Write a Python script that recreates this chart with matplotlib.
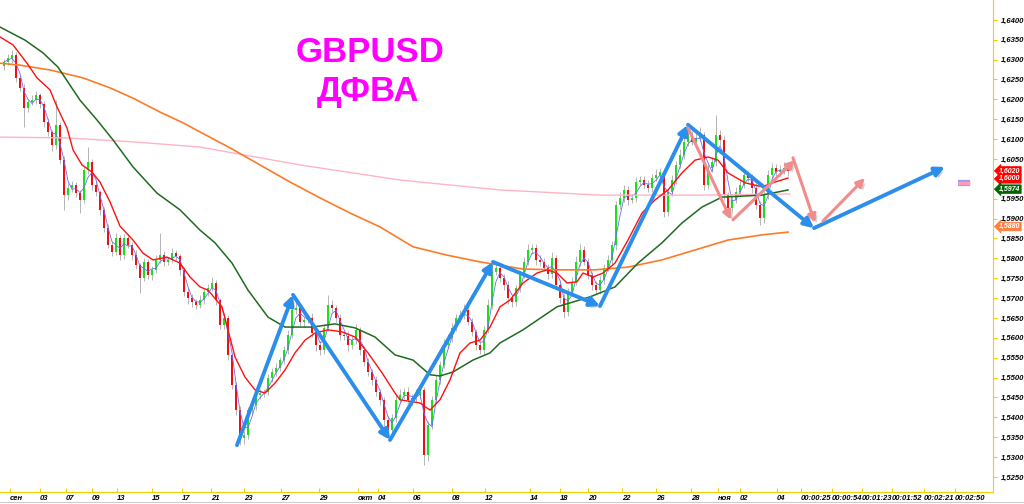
import matplotlib
matplotlib.use('Agg')
import matplotlib.pyplot as plt
import matplotlib.patheffects as pe
from matplotlib.lines import Line2D
import numpy as np
import pandas as pd

# H4 closes (bar 0 = first candle)
close = [
    1.6294, 1.6304, 1.6312, 1.6254, 1.6229, 1.6178, 1.6193, 1.6198, 1.6211, 1.6188,
    1.6143, 1.6118, 1.6085, 1.6136, 1.6047, 1.5959, 1.5977, 1.5985, 1.5964, 1.5947,
    1.6022, 1.6042, 1.5985, 1.5967, 1.5922, 1.5876, 1.5834, 1.5816, 1.5851, 1.5808,
    1.5851, 1.5834, 1.5808, 1.5783, 1.5751, 1.5791, 1.5758, 1.5771, 1.5796, 1.5808,
    1.5791, 1.5796, 1.5813, 1.5806, 1.5771, 1.5715, 1.5700, 1.5690, 1.5683, 1.5695,
    1.5715, 1.5725, 1.5738, 1.5695, 1.5632, 1.5650, 1.5557, 1.5481, 1.5418, 1.5348,
    1.5356, 1.5418, 1.5431, 1.5456, 1.5461, 1.5464, 1.5499, 1.5514, 1.5524, 1.5544,
    1.5569, 1.5607, 1.5670, 1.5675, 1.5640, 1.5645, 1.5650, 1.5612, 1.5582, 1.5569,
    1.5625, 1.5683, 1.5675, 1.5650, 1.5607, 1.5605, 1.5582, 1.5594, 1.5620, 1.5569,
    1.5539, 1.5514, 1.5494, 1.5464, 1.5444, 1.5393, 1.5368, 1.5398, 1.5444, 1.5456,
    1.5464, 1.5444, 1.5449, 1.5456, 1.5469, 1.5305, 1.5381, 1.5444, 1.5494, 1.5532,
    1.5582, 1.5600, 1.5625, 1.5650, 1.5657, 1.5670, 1.5640, 1.5615, 1.5582, 1.5569,
    1.5620, 1.5683, 1.5766, 1.5776, 1.5751, 1.5733, 1.5700, 1.5690, 1.5725, 1.5758,
    1.5791, 1.5821, 1.5826, 1.5796, 1.5791, 1.5776, 1.5761, 1.5801, 1.5733, 1.5700,
    1.5665, 1.5715, 1.5741, 1.5791, 1.5821, 1.5791, 1.5758, 1.5733, 1.5720, 1.5746,
    1.5776, 1.5796, 1.5834, 1.5934, 1.5952, 1.5972, 1.5947, 1.5952, 1.5992, 1.5997,
    1.5985, 1.5977, 1.6002, 1.6010, 1.6017, 1.5917, 1.5967, 1.5997, 1.6035, 1.6060,
    1.6093, 1.6110, 1.6093, 1.6103, 1.6110, 1.5985, 1.6027, 1.6042, 1.6110, 1.6098,
    1.5959, 1.5927, 1.5947, 1.5967, 1.5985, 1.6010, 1.6002, 1.5977, 1.5934, 1.5902,
    1.5959, 1.6010, 1.6027, 1.6017, 1.6022, 1.6027, 1.6020,
]
first_open = 1.6285

# wick lengths in pips above / below the body
wick_up = [
    8, 10, 12, 6, 8, 10, 9, 12, 10, 6,
    8, 10, 6, 62, 8, 10, 12, 9, 8, 7,
    10, 38, 8, 9, 6, 8, 10, 9, 12, 8,
    10, 9, 8, 12, 6, 10, 8, 9, 12, 56,
    10, 8, 12, 9, 6, 8, 10, 9, 8, 12,
    9, 10, 14, 8, 6, 12, 8, 6, 8, 10,
    9, 8, 10, 12, 9, 8, 10, 9, 12, 8,
    10, 12, 14, 20, 9, 8, 10, 12, 8, 9,
    10, 25, 12, 8, 10, 9, 12, 10, 14, 8,
    10, 9, 8, 10, 8, 6, 9, 10, 12, 14,
    10, 12, 9, 14, 10, 8, 9, 10, 12, 10,
    14, 10, 12, 9, 12, 14, 10, 9, 8, 10,
    9, 14, 12, 10, 8, 9, 10, 8, 9, 10,
    12, 15, 10, 9, 12, 10, 9, 14, 8, 10,
    9, 10, 12, 14, 16, 10, 9, 8, 10, 9,
    10, 12, 9, 10, 14, 12, 10, 9, 12, 10,
    9, 12, 10, 14, 10, 8, 10, 12, 10, 14,
    12, 20, 10, 12, 20, 8, 10, 12, 51, 14,
    10, 9, 10, 12, 14, 10, 9, 10, 12, 9,
    10, 12, 14, 10, 12, 16, 10,
]
wick_dn = [
    10, 8, 12, 10, 9, 48, 10, 8, 9, 10,
    12, 10, 14, 9, 10, 37, 12, 10, 9, 33,
    9, 10, 12, 10, 12, 10, 9, 10, 8, 12,
    10, 9, 12, 10, 38, 9, 10, 12, 9, 8,
    10, 9, 8, 10, 12, 10, 14, 12, 10, 9,
    10, 9, 8, 12, 10, 9, 12, 10, 12, 18,
    14, 10, 9, 12, 10, 9, 8, 10, 9, 8,
    9, 10, 8, 9, 10, 12, 9, 10, 14, 12,
    9, 8, 10, 9, 12, 10, 14, 9, 10, 12,
    10, 9, 12, 10, 12, 14, 12, 9, 10, 9,
    10, 9, 12, 10, 9, 25, 14, 10, 9, 10,
    8, 9, 10, 8, 9, 10, 9, 10, 12, 10,
    9, 8, 10, 9, 10, 12, 14, 12, 10, 9,
    8, 9, 10, 12, 10, 9, 12, 10, 9, 12,
    15, 10, 9, 8, 10, 9, 10, 12, 10, 9,
    10, 9, 10, 12, 9, 10, 12, 9, 10, 8,
    10, 9, 10, 8, 9, 13, 10, 9, 10, 8,
    9, 10, 8, 10, 9, 14, 10, 9, 10, 12,
    12, 14, 10, 9, 10, 9, 10, 12, 10, 18,
    12, 9, 10, 10, 9, 10, 12,
]

# moving averages as drawn on the chart (bar, price)
ma_red_bar = [-1, 2.25, 5.75, 8.25, 11.5, 13.25, 15.75, 17.25, 19.5, 22, 24, 26.5, 29,
              32.25, 34.75, 37.25, 40.75, 44, 46.5, 49, 51, 54.5, 56, 57.75, 60.25, 62.75,
              65.25, 67.75, 70.25, 72.75, 75.25, 77.75, 81, 84.5, 87.75, 91, 94.5, 97.75,
              99, 104, 106.5, 109, 111.5, 114, 116.5, 119, 121.5, 124, 126.5, 129.75,
              133.25, 135.75, 138.25, 140.75, 143.25, 144.75, 147.25, 149.75, 152.75, 156,
              159.5, 162.75, 166, 169.5, 172.75, 176, 178.5, 181, 185.25, 189.5, 192.75, 196]
ma_red = [1.6357, 1.6337, 1.6291, 1.6254, 1.6224, 1.6181, 1.6128, 1.6073, 1.6035, 1.6017,
          1.5992, 1.5942, 1.5881, 1.5846, 1.5813, 1.5796, 1.5803, 1.5788, 1.5753, 1.5728,
          1.5720, 1.5678, 1.5620, 1.5552, 1.5501, 1.5469, 1.5461, 1.5486, 1.5519, 1.5562,
          1.5594, 1.5612, 1.5620, 1.5615, 1.5602, 1.5562, 1.5512, 1.5461, 1.5444, 1.5436,
          1.5418, 1.5444, 1.5494, 1.5562, 1.5587, 1.5594, 1.5627, 1.5678, 1.5695, 1.5738,
          1.5763, 1.5771, 1.5763, 1.5738, 1.5741, 1.5763, 1.5753, 1.5763, 1.5788, 1.5846,
          1.5914, 1.5947, 1.5972, 1.6015, 1.6047, 1.6055, 1.6047, 1.6015, 1.5990, 1.5980,
          1.5992, 1.6002]

ma_green_bar = [-1, 5.25, 9.75, 13.5, 19, 23.25, 27.25, 32.25, 38.25, 44, 49, 52.75, 57, 61,
                66, 70.25, 77, 82.75, 87.75, 92.75, 97.75, 102.25, 106.5, 109, 112.25,
                117.25, 121.5, 124, 129.75, 138.25, 146.5, 152.75, 158.5, 164.5, 169.5,
                174.5, 179.5, 189.5, 196]
ma_green = [1.6382, 1.6349, 1.6317, 1.6281, 1.6198, 1.6148, 1.6098, 1.6030, 1.5964, 1.5922,
            1.5871, 1.5839, 1.5788, 1.5720, 1.5652, 1.5627, 1.5627, 1.5635, 1.5625, 1.5602,
            1.5557, 1.5544, 1.5507, 1.5504, 1.5514, 1.5544, 1.5562, 1.5587, 1.5620, 1.5678,
            1.5703, 1.5728, 1.5788, 1.5839, 1.5889, 1.5929, 1.5954, 1.5959, 1.5972]

ma_orange_bar = [-1, 4, 11.5, 19.75, 26.5, 32.25, 39, 44.75, 49, 56.5, 64, 71.5, 79, 86.5,
                 94, 102.25, 110.75, 119, 129.75, 138.25, 147.75, 156, 164.5, 172.75, 181,
                 189.5, 196]
ma_orange = [1.6291, 1.6286, 1.6274, 1.6254, 1.6229, 1.6203, 1.6168, 1.6141, 1.6118, 1.6078,
             1.6035, 1.5992, 1.5952, 1.5914, 1.5879, 1.5829, 1.5808, 1.5791, 1.5773, 1.5771,
             1.5771, 1.5778, 1.5796, 1.5821, 1.5846, 1.5859, 1.5866]

ma_pink_bar = [-1, 15.75, 32.25, 49, 74, 99, 124, 149, 174, 196.5]
ma_pink = [1.6105, 1.6103, 1.6093, 1.6080, 1.6035, 1.5997, 1.5972, 1.5959, 1.5959, 1.5962]

# hand-drawn wave arrows (bar, price)
blue_wave_bar = [58.25, 72.25, 96.5, 122.25, 149, 171, 202.5, 235.25]
blue_wave = [1.5330, 1.5708, 1.5343, 1.5791, 1.5680, 1.6136, 1.5876, 1.6030]
pink_arrows = [((171, 1.6128), (181.75, 1.5897)),
               ((182.25, 1.5897), (197.75, 1.6047)),
               ((197.25, 1.6053), (202.75, 1.5889)),
               ((204.75, 1.5894), (215.25, 1.6002))]

# right-hand price tags
tag_values = [1.6020, 1.6000, 1.5974, 1.5880]
tag_colors = ['#FF0000', '#FF0000', '#006400', '#FF7F3F']
pink_mark = (238.5, 241.5, 1.5990)

# price scale
ytick_vals = np.round(np.arange(1.525, 1.6401, 0.005), 4)
ytick_hidden = [1.6000]

# x-axis labels
xtick_pos = [1.5, 9, 15.5, 22, 28.25, 37, 44.5, 51.75, 60, 69.25, 78.75, 88.5, 93.5, 102.25,
             112, 120.25, 131.5, 139, 146, 154.5, 163, 171.75, 178.5, 184, 193.25, 199.25,
             207, 214.5, 222, 230, 237.75]
xtick_lab = ['сен', '03', '07', '09', '13', '15', '17', '21', '23', '27', '29', 'окт', '04',
             '06', '08', '12', '14', '18', '20', '22', '26', '28', 'ноя', '02', '04',
             '00:00:25', '00:00:54', '00:01:23', '00:01:52', '00:02:21', '00:02:50']

AXIS_YELLOW = '#F0D000'
TICK_FONT = dict(family='Liberation Sans', size=5.5, weight='bold', style='italic')

fig = plt.figure(figsize=(10.24, 5.04), dpi=100)
fig.patch.set_facecolor('white')
ax = fig.add_axes([0, 12 / 504, 993 / 1024, 492 / 504])
ax.set_xlim(-1, 247.25)
ax.set_ylim(1.5212, 1.6450)

c = np.array(close)
o = np.concatenate([[first_open], c[:-1]])
hi = np.maximum(o, c) + np.array(wick_up) * 0.0001
lo = np.minimum(o, c) - np.array(wick_dn) * 0.0001
idx = np.arange(len(c))
up = c >= o

ax.vlines(idx, lo, hi, color='#AAAAAA', lw=0.6, zorder=2)
body_h = np.maximum(np.abs(c - o), 0.0003)
ax.bar(idx[up], body_h[up], bottom=np.minimum(o, c)[up], width=0.65, color='#19E019', lw=0, zorder=3)
ax.bar(idx[~up], body_h[~up], bottom=np.minimum(o, c)[~up], width=0.65, color='#F01010', lw=0, zorder=3)

fast = pd.Series(c).rolling(3, min_periods=1).mean()
ax.plot(idx, fast, color='#6A6AFF', lw=0.6, zorder=4)
ax.plot(ma_pink_bar, ma_pink, color='#FFB4C4', lw=1.0, zorder=4)
ax.plot(ma_orange_bar, ma_orange, color='#FF7A28', lw=1.2, zorder=4)
ax.plot(ma_green_bar, ma_green, color='#1F6B1F', lw=1.1, zorder=4)
ax.plot(ma_red_bar, ma_red, color='#FF1010', lw=1.0, zorder=4)

shadow = [pe.SimplePatchShadow(offset=(2, -2), shadow_rgbFace='#808080', alpha=0.35), pe.Normal()]
for a, b, pa, pb in zip(blue_wave_bar[:-1], blue_wave_bar[1:], blue_wave[:-1], blue_wave[1:]):
    ax.annotate('', xy=(b, pb), xytext=(a, pa), zorder=6,
                arrowprops=dict(arrowstyle='-|>', color='#2B8EEA', lw=2.8, mutation_scale=14,
                                shrinkA=0, shrinkB=0, path_effects=shadow))
for (a, pa), (b, pb) in pink_arrows:
    ax.annotate('', xy=(b, pb), xytext=(a, pa), zorder=6,
                arrowprops=dict(arrowstyle='-|>', color='#F08C8C', lw=2.2, mutation_scale=12,
                                shrinkA=0, shrinkB=0, path_effects=shadow))

ax.plot(pink_mark[:2], [pink_mark[2]] * 2, color='#9A9AEE', lw=4.5, solid_capstyle='butt', zorder=5)
ax.plot(pink_mark[:2], [pink_mark[2]] * 2, color='#FF9EB8', lw=2.5, solid_capstyle='butt', zorder=5)

# title
fig.text(370 / 1024, 1 - 52 / 504, 'GBPUSD', color='#FF00FF', ha='center', va='center',
         family='Liberation Sans', weight='bold', size=25)
fig.text(368 / 1024, 1 - 92 / 504, 'ДФВА', color='#FF00FF', ha='center', va='center',
         family='Liberation Sans', weight='bold', size=25)

# axes styling
for s in ['left', 'top']:
    ax.spines[s].set_visible(False)
for s in ['right', 'bottom']:
    ax.spines[s].set_color(AXIS_YELLOW)
    ax.spines[s].set_linewidth(0.8)
ax.yaxis.tick_right()
ax.set_yticks(ytick_vals)
ax.set_yticklabels(['' if v in ytick_hidden else f'{v:.4f}'.replace('.', ',') for v in ytick_vals])
ax.tick_params(axis='y', colors=AXIS_YELLOW, length=3, width=0.8, pad=3, labelcolor='black')
ax.set_xticks(xtick_pos)
ax.set_xticklabels(xtick_lab)
ax.tick_params(axis='x', colors=AXIS_YELLOW, length=3, width=0.8, direction='in', pad=2,
               labelcolor='black')
for lab in ax.get_yticklabels() + ax.get_xticklabels():
    lab.set_fontproperties(TICK_FONT)
for lab in ax.get_xticklabels():
    lab.set_ha('left')

for val, col in zip(tag_values, tag_colors):
    ax.text(1.006, val, f'{val:.4f}'.replace('.', ','), transform=ax.get_yaxis_transform(),
            ha='left', va='center', color='white', zorder=10, clip_on=False,
            fontfamily='Liberation Sans', fontsize=5, fontweight='bold', fontstyle='italic',
            bbox=dict(boxstyle='larrow,pad=0.12', fc=col, ec=col, lw=0.5))

fig.add_artist(Line2D([0, 1], [0.004, 0.004], color='#CCCCCC', lw=0.8))

fig.savefig('out.png', dpi=100, facecolor='white')
